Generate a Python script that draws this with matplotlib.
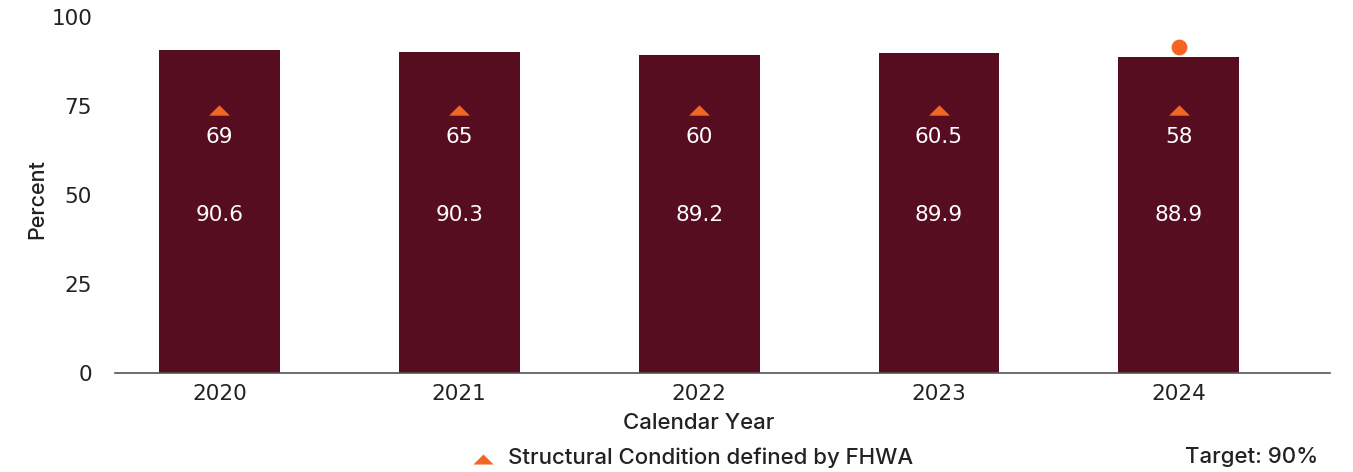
import matplotlib
matplotlib.use("Agg")
import matplotlib.pyplot as plt
from matplotlib.lines import Line2D

years = ["2020", "2021", "2022", "2023", "2024"]
bar_values = [90.6, 90.3, 89.2, 89.9, 88.9]
fhwa_values = ["69", "65", "60", "60.5", "58"]
target_year_index = 4
target_marker_value = 91.5

BAR = "#570d20"
ORANGE = "#f26522"
TXT = "#222222"
NUMFONT = ['DejaVu Sans']
WORDFONT = ['Inter', 'DejaVu Sans']

plt.rcParams['font.family'] = WORDFONT

fig = plt.figure(figsize=(13.53, 4.72), dpi=100)
W, H = 1353, 472
ax = fig.add_axes([115/W, 1-373/H, (1330-115)/W, (373-17)/H])

tri = [(-1, -0.5), (1, -0.5), (0, 0.5)]

x = list(range(len(years)))
ax.bar(x, bar_values, width=0.504, color=BAR, zorder=2)
for xi, v, f in zip(x, bar_values, fhwa_values):
    ax.text(xi, 44.5, f"{v}", color="white", ha="center", va="center", fontsize=15.5, family=NUMFONT)
    ax.text(xi, 66.3, f, color="white", ha="center", va="center", fontsize=15.5, family=NUMFONT)
ax.scatter(x, [74]*len(x), marker=tri, s=225, color=ORANGE, zorder=3, linewidths=0)
ax.scatter([target_year_index], [target_marker_value], marker="o", s=130, color=ORANGE, zorder=3, linewidths=0)

ax.set_xlim(-0.435, 4.63)
ax.set_ylim(0, 100)
ax.set_yticks([0, 25, 50, 75, 100])
ax.set_xticks(x)
ax.set_xticklabels(years)
ax.tick_params(axis="both", length=0, labelsize=15.5, colors=TXT)
ax.tick_params(axis="y", pad=16.5)
ax.tick_params(axis="x", pad=8)
for lab in ax.get_xticklabels() + ax.get_yticklabels():
    lab.set_family(NUMFONT)
for s in ["top", "right", "left"]:
    ax.spines[s].set_visible(False)
ax.spines["bottom"].set_color("#555555")
ax.spines["bottom"].set_linewidth(1.2)

ax.set_ylabel("Percent", fontsize=15.5, color=TXT, fontweight=500)
ax.yaxis.set_label_coords((47-115)/1215, (373-199)/356)
ax.text(2, -14.1, "Calendar Year", transform=ax.transData, ha="center", va="center",
        fontsize=16, color=TXT, fontweight=500)

fig.add_artist(Line2D([483/W], [1-458.5/H], marker=tri, markersize=14.5, color=ORANGE,
                      markeredgewidth=0, linestyle="none", transform=fig.transFigure))
fig.text(508/W, 1-458/H, "Structural Condition defined by FHWA", color=TXT, fontsize=16,
         ha="left", va="center", fontweight=500)
fig.text(1318/W, 1-457/H, "Target: 90%", color=TXT, fontsize=16, ha="right", va="center",
         fontweight=500)

fig.savefig("out.png", dpi=100)
